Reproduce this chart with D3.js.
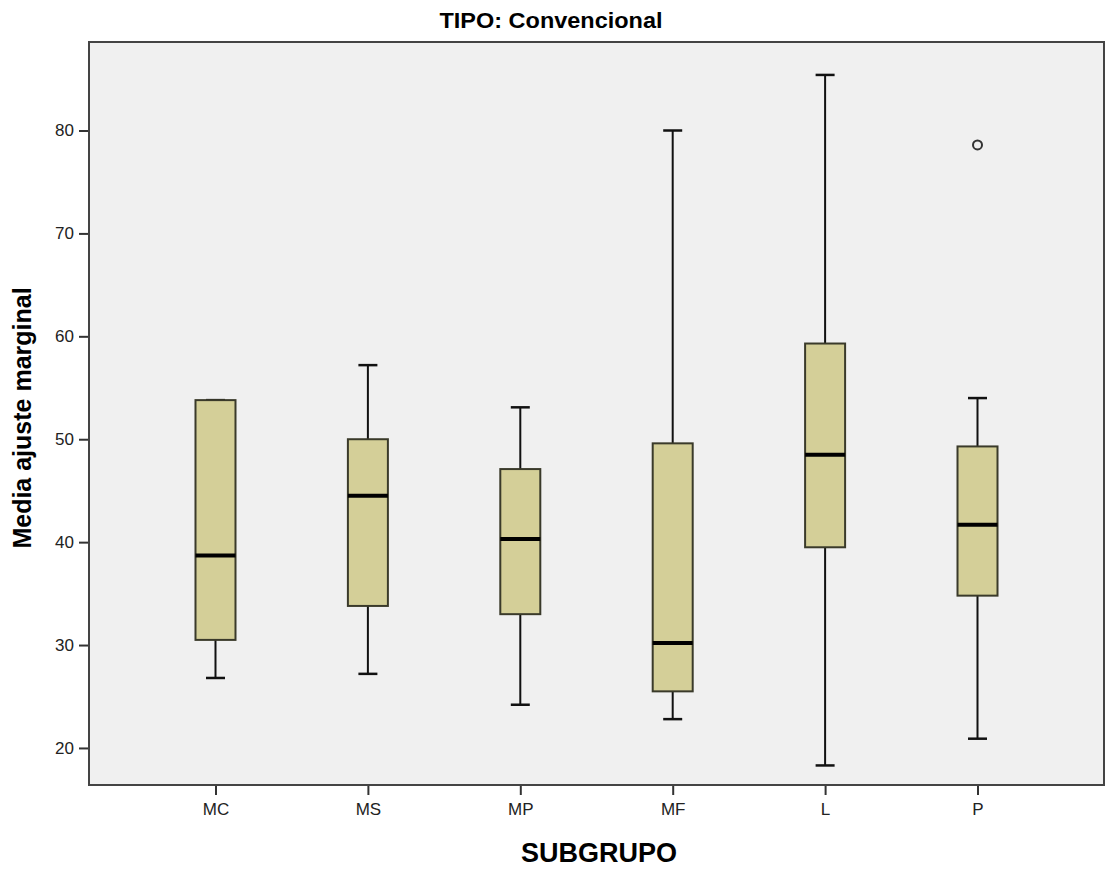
<!DOCTYPE html>
<html>
<head>
<meta charset="utf-8">
<script src="https://cdn.jsdelivr.net/npm/d3@7"></script>
<style>
  body { margin: 0; background: #fff; }
  text { font-family: "Liberation Sans", Arial, sans-serif; }
</style>
</head>
<body>
<script>
// box plot values
var categories = ["MC", "MS", "MP", "MF", "L", "P"];
var mins    = [26.8, 27.2, 24.2, 22.8, 18.3, 20.9];
var q1s     = [30.5, 33.8, 33.0, 25.5, 39.5, 34.8];
var medians = [38.7, 44.5, 40.3, 30.2, 48.5, 41.7];
var q3s     = [53.8, 50.0, 47.1, 49.6, 59.3, 49.3];
var maxs    = [53.8, 57.2, 53.1, 80.0, 85.4, 54.0];
var outliers = [{cat: "P", value: 78.6}];
var yTicks = [20, 30, 40, 50, 60, 70, 80];

window.onload = drawChart();

function drawChart(){
    var width = 1106,
        height = 872;

    var left = 89, right = 1104, top = 42, bottom = 785;

    var svg = d3.select("body")
        .append("svg")
        .attr("width", width)
        .attr("height", height);

    var x = d3.scalePoint()
        .domain(categories)
        .range([left, right])
        .padding(0.83);

    var y = d3.scaleLinear()
        .domain([16.4, 88.6])
        .range([bottom, top]);

    //plot background
    svg.append("rect")
        .attr("x", left)
        .attr("y", top)
        .attr("width", right - left)
        .attr("height", bottom - top)
        .attr("fill", "#f0f0f0");

    //axes
    var yAxis = svg.append("g")
        .attr("transform", "translate(" + left + ",0)")
        .call(d3.axisLeft(y).tickValues(yTicks).tickSize(10).tickPadding(5));
    var xAxis = svg.append("g")
        .attr("transform", "translate(0," + bottom + ")")
        .call(d3.axisBottom(x).tickSize(10).tickPadding(8));

    [yAxis, xAxis].forEach(function(a){
        a.select(".domain").remove();
        a.selectAll("line").attr("stroke", "#333").attr("stroke-width", 2);
        a.selectAll("text").attr("fill", "#222").style("font-size", "17px");
    });

    //frame
    svg.append("rect")
        .attr("x", left)
        .attr("y", top)
        .attr("width", right - left)
        .attr("height", bottom - top)
        .attr("fill", "none")
        .attr("stroke", "#444")
        .attr("stroke-width", 2);

    var boxW = 40, capW = 19;
    var rows = categories.map(function(c, i){
        return {cat: c, min: mins[i], q1: q1s[i], med: medians[i], q3: q3s[i], max: maxs[i]};
    });

    var g = svg.selectAll(".box")
        .data(rows)
        .enter()
        .append("g")
        .attr("class", "box");

    //whiskers
    g.append("line")
        .attr("x1", function(d){ return x(d.cat); })
        .attr("x2", function(d){ return x(d.cat); })
        .attr("y1", function(d){ return y(d.min); })
        .attr("y2", function(d){ return y(d.max); })
        .attr("stroke", "#111").attr("stroke-width", 2);
    g.append("line")
        .attr("x1", function(d){ return x(d.cat) - capW / 2; })
        .attr("x2", function(d){ return x(d.cat) + capW / 2; })
        .attr("y1", function(d){ return y(d.min); })
        .attr("y2", function(d){ return y(d.min); })
        .attr("stroke", "#111").attr("stroke-width", 2.5);
    g.append("line")
        .attr("x1", function(d){ return x(d.cat) - capW / 2; })
        .attr("x2", function(d){ return x(d.cat) + capW / 2; })
        .attr("y1", function(d){ return y(d.max); })
        .attr("y2", function(d){ return y(d.max); })
        .attr("stroke", "#111").attr("stroke-width", 2.5);

    //boxes
    g.append("rect")
        .attr("x", function(d){ return x(d.cat) - boxW / 2; })
        .attr("y", function(d){ return y(d.q3); })
        .attr("width", boxW)
        .attr("height", function(d){ return y(d.q1) - y(d.q3); })
        .attr("fill", "#d4cf98")
        .attr("stroke", "#3a3a2a")
        .attr("stroke-width", 2);

    //medians
    g.append("line")
        .attr("x1", function(d){ return x(d.cat) - boxW / 2; })
        .attr("x2", function(d){ return x(d.cat) + boxW / 2; })
        .attr("y1", function(d){ return y(d.med); })
        .attr("y2", function(d){ return y(d.med); })
        .attr("stroke", "#000").attr("stroke-width", 4);

    //outliers
    svg.selectAll(".outlier")
        .data(outliers)
        .enter()
        .append("circle")
        .attr("class", "outlier")
        .attr("cx", function(d){ return x(d.cat); })
        .attr("cy", function(d){ return y(d.value); })
        .attr("r", 4.5)
        .attr("fill", "none")
        .attr("stroke", "#333")
        .attr("stroke-width", 2);

    //titles
    svg.append("text")
        .attr("x", 551).attr("y", 28)
        .attr("text-anchor", "middle")
        .style("font-size", "22px").style("font-weight", "bold")
        .attr("textLength", 223).attr("lengthAdjust", "spacingAndGlyphs")
        .text("TIPO: Convencional");

    svg.append("text")
        .attr("transform", "translate(31,418) rotate(-90)")
        .attr("text-anchor", "middle")
        .style("font-size", "25px").style("font-weight", "bold")
        .text("Media ajuste marginal");

    svg.append("text")
        .attr("x", 599).attr("y", 862)
        .attr("text-anchor", "middle")
        .style("font-size", "27px").style("font-weight", "bold")
        .text("SUBGRUPO");
};
</script>
</body>
</html>
